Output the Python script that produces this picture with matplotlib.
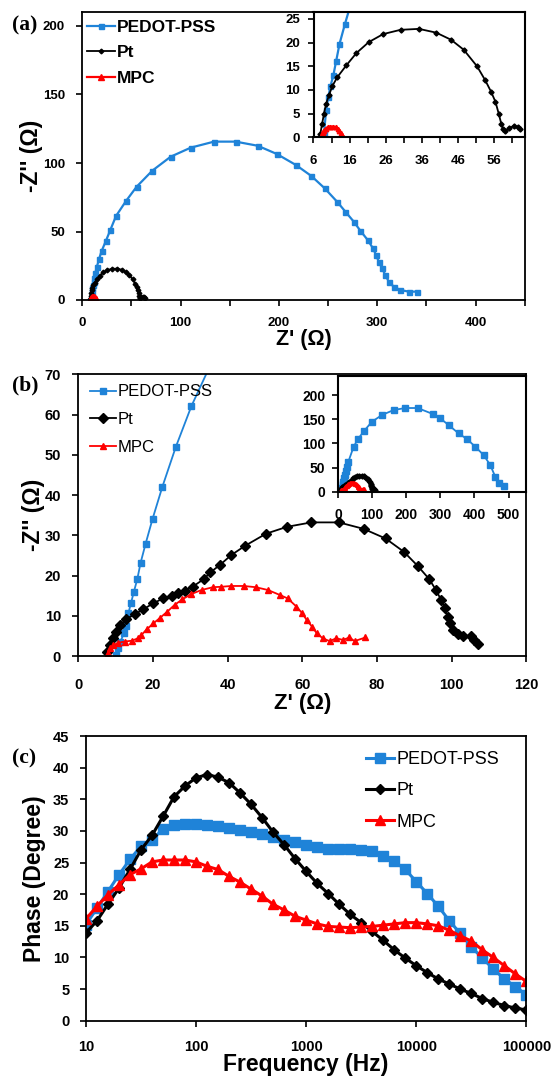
import matplotlib
matplotlib.use('Agg')
import matplotlib.pyplot as plt
from matplotlib.ticker import FixedLocator, FixedFormatter, NullFormatter

plt.rcParams['font.family'] = ['Liberation Sans', 'DejaVu Sans']
plt.rcParams['font.weight'] = 'bold'
plt.rcParams['axes.labelweight'] = 'bold'

# ---------------- data ----------------
labels = ['PEDOT-PSS', 'Pt', 'MPC']

# Panel (a) Nyquist
a_pedot_x = [8.9, 9.5, 10.1, 10.7, 11.5, 12.3, 13.2, 14.7, 17.0, 19.8, 24.1, 28.5, 34.3, 44.5, 55.3,
             71.2, 89.9, 110.3, 134.0, 156.0, 178.4, 197.8, 217.4, 233.0, 246.6, 259.1, 267.6, 276.1,
             282.8, 290.3, 295.7, 298.8, 301.5, 304.9, 308.2, 311.7, 316.8, 323.5, 332.0, 340.5]
a_pedot_y = [0.8, 5.7, 8.5, 10.8, 13.1, 16.2, 19.7, 23.9, 29.9, 36.0, 43.3, 51.1, 61.3, 72.3, 82.7,
             94.4, 104.6, 111.2, 115.6, 115.6, 112.6, 106.6, 98.5, 90.5, 81.5, 71.8, 64.5, 57.2,
             50.6, 43.8, 37.7, 32.8, 28.0, 23.1, 18.2, 13.4, 9.7, 7.3, 6.1, 6.1]
a_pt_x = [7.9, 8.4, 8.9, 9.5, 10.3, 11.2, 12.6, 15.1, 17.9, 21.3, 25.3, 30.1, 35.2, 40.0, 44.1,
          47.6, 51.3, 53.6, 55.2, 56.4, 57.3, 58.0, 58.5, 59.1, 60.1, 61.5, 62.6, 63.3]
a_pt_y = [0.8, 2.9, 5.0, 7.1, 8.9, 10.8, 12.7, 15.2, 17.8, 20.1, 21.8, 22.7, 22.9, 22.1, 20.6,
          18.5, 15.0, 12.0, 9.6, 7.5, 5.0, 2.9, 1.7, 1.3, 1.9, 2.4, 2.2, 1.7]
a_mpc_x = [8.2, 8.5, 8.9, 9.4, 10.0, 10.7, 11.4, 12.1, 12.7, 13.2, 13.6, 14.0, 14.2]
a_mpc_y = [0.2, 0.9, 1.4, 1.8, 2.1, 2.2, 2.2, 2.1, 1.8, 1.4, 0.9, 0.4, 0.1]

# Panel (b) Nyquist
b_pedot_x = [10.2, 10.7, 11.3, 12.2, 12.9, 13.4, 14.1, 14.9, 15.8, 16.7, 18.0, 19.9, 22.5, 26.1, 30.3,
             45.9, 58.6, 77.1, 99.6, 128.9, 163.1, 197.3, 233.4, 278.3, 299.8, 324.2, 353.5, 377.9,
             402.3, 426.8, 446.3, 460.9, 472.7, 485.4]
b_pedot_y = [0.2, 1.9, 3.6, 5.6, 7.5, 10.6, 13.1, 16.0, 19.1, 23.2, 27.8, 34.1, 42.0, 51.9, 62.1,
             93.4, 109.3, 126.6, 145.2, 159.1, 169.4, 173.6, 173.6, 161.1, 152.1, 138.3, 121.0, 109.3,
             93.4, 76.1, 55.4, 31.2, 18.7, 12.5]
b_pt_x = [7.6, 8.5, 9.4, 10.2, 11.3, 12.7, 15.2, 17.4, 20.1, 22.7, 25.0, 26.7, 28.5, 30.6, 33.6,
          35.4, 37.9, 41.0, 44.7, 50.3, 55.9, 62.4, 69.8, 76.4, 82.3, 87.2, 90.9, 94.0, 95.8, 97.2,
          98.2, 98.9, 99.6, 100.3, 101.6, 103.1, 105.2, 106.1, 107.0]
b_pt_y = [1.1, 2.7, 4.4, 6.0, 7.7, 9.1, 10.4, 11.6, 13.1, 14.3, 14.9, 15.7, 16.2, 17.2, 19.1,
          20.8, 22.6, 25.1, 27.4, 30.4, 32.1, 33.2, 33.2, 31.6, 29.2, 25.9, 22.4, 19.1, 16.4, 13.9,
          11.9, 9.8, 8.1, 6.5, 5.5, 5.0, 5.0, 4.1, 3.1]
b_mpc_x = [8.0, 8.5, 9.4, 10.7, 12.5, 14.3, 16.0, 16.9, 18.3, 20.1, 21.8, 23.8, 25.8, 27.9, 30.3,
           33.0, 36.1, 38.3, 41.0, 44.3, 47.5, 50.8, 53.9, 56.1, 58.4, 60.0, 61.2, 62.6, 63.9,
           65.5, 67.3, 69.1, 70.9, 72.6, 74.0, 76.9]
b_mpc_y = [0.7, 1.9, 2.7, 3.3, 3.6, 3.8, 4.4, 5.2, 6.6, 8.1, 9.4, 11.0, 12.7, 14.1, 15.4,
           16.4, 17.1, 17.2, 17.4, 17.4, 17.1, 16.4, 15.2, 14.3, 12.3, 10.6, 8.9, 7.3, 5.6,
           4.4, 3.7, 4.4, 4.0, 4.6, 3.7, 4.6]

# Panel (c) Bode phase
freq = [10, 12.6, 15.8, 20, 25.1, 31.6, 39.8, 50.1, 63.1, 79.4, 100, 126, 158, 200, 251, 316, 398,
        501, 631, 794, 1000, 1259, 1585, 1995, 2512, 3162, 3981, 5012, 6310, 7943, 10000, 12589,
        15849, 19953, 25119, 31623, 39811, 50119, 63096, 79433, 100000]
c_pedot = [15.2, 17.8, 20.4, 23.1, 25.5, 27.6, 28.6, 30.3, 30.9, 31.1, 31.1, 31.0, 30.7, 30.5, 30.1,
           29.9, 29.5, 29.0, 28.6, 28.2, 27.8, 27.5, 27.2, 27.1, 27.1, 27.0, 26.8, 26.1, 25.2, 23.9,
           22.0, 20.1, 18.1, 15.8, 13.8, 11.7, 9.9, 8.2, 6.6, 5.4, 4.1]
c_pt = [13.9, 15.8, 18.4, 21.0, 23.9, 27.0, 29.3, 32.3, 35.4, 37.1, 38.4, 38.9, 38.5, 37.6, 36.0,
        34.2, 32.1, 29.8, 27.8, 25.6, 23.6, 21.7, 20.1, 18.4, 16.8, 15.5, 14.1, 12.7, 11.2, 9.9,
        8.7, 7.6, 6.6, 5.8, 5.0, 4.3, 3.5, 2.9, 2.4, 2.0, 1.7]
c_mpc = [16.1, 18.1, 19.9, 21.5, 23.1, 24.0, 25.1, 25.4, 25.4, 25.4, 25.1, 24.4, 23.9, 22.8, 21.9,
         20.8, 19.7, 18.4, 17.5, 16.5, 15.9, 15.3, 14.9, 14.8, 14.7, 14.8, 14.9, 15.1, 15.3, 15.5,
         15.5, 15.3, 15.0, 14.3, 13.4, 12.6, 11.2, 10.0, 8.7, 7.4, 6.2]

# ticks
a_xticks = [0, 100, 200, 300, 400]
a_xminor = [50, 150, 250, 350, 450]
a_yticks = [0, 50, 100, 150, 200]
ai_xticks = [6, 16, 26, 36, 46, 56]
ai_xminor = [11, 21, 31, 41, 51, 61]
ai_yticks = [0, 5, 10, 15, 20, 25]
b_xticks = [0, 20, 40, 60, 80, 100, 120]
b_yticks = [0, 10, 20, 30, 40, 50, 60, 70]
bi_xticks = [0, 100, 200, 300, 400, 500]
bi_yticks = [0, 50, 100, 150, 200]
c_xticks = [10, 100, 1000, 10000, 100000]
c_xlabels = ['10', '100', '1000', '10000', '100000']
c_yticks = [0, 5, 10, 15, 20, 25, 30, 35, 40, 45]

BLUE = '#1f83d8'
RED = '#ff0000'
BLACK = '#000000'

W, H = 554, 1076
fig = plt.figure(figsize=(W / 100, H / 100), dpi=100)


def ax_px(l, t, r, b):
    return fig.add_axes([l / W, 1 - b / H, (r - l) / W, (b - t) / H])


def style(ax, size, ypad, xpad, lw=1.3):
    for s in ax.spines.values():
        s.set_linewidth(lw)
    ax.tick_params(which='both', direction='out', length=4, width=1.2,
                   labelsize=size)
    ax.tick_params(axis='y', which='both', pad=ypad)
    ax.tick_params(axis='x', which='both', pad=xpad)


def legend(ax, x, y, size, weight, hl, htp, ls):
    ax.legend(loc='upper left', bbox_to_anchor=(x / W, 1 - y / H),
              bbox_transform=fig.transFigure, frameon=False, borderpad=0,
              borderaxespad=0, handlelength=hl, handletextpad=htp,
              labelspacing=ls, prop={'size': size, 'weight': weight,
                                     'family': 'Liberation Sans'})


def panel_label(x, y, s):
    fig.text(x / W, 1 - y / H, s, family='Liberation Serif', weight='bold',
             fontsize=15.5, ha='center', va='center')


# ---------------- panel (a) ----------------
ax = ax_px(82.3, 12.3, 524.7, 300)
ax.plot(a_pedot_x, a_pedot_y, color=BLUE, lw=1.6, marker='s', ms=3.6, label=labels[0])
ax.plot(a_pt_x, a_pt_y, color=BLACK, lw=1.3, marker='D', ms=2.4, label=labels[1])
ax.plot(a_mpc_x, a_mpc_y, color=RED, lw=1.6, marker='^', ms=4.2, label=labels[2])
ax.set_xlim(0, 450)
ax.set_ylim(0, 210)
ax.xaxis.set_major_locator(FixedLocator(a_xticks))
ax.xaxis.set_minor_locator(FixedLocator(a_xminor))
ax.yaxis.set_major_locator(FixedLocator(a_yticks))
style(ax, 9.5, 8.5, 8.5)
ax.set_xlabel("Z' (\u03a9)", fontsize=15.5, labelpad=0)
ax.set_ylabel("-Z'' (\u03a9)", fontsize=16.5, labelpad=6)
ax.xaxis.set_label_coords(0.5, -0.101)
ax.yaxis.set_label_coords(-0.088, 0.5)
legend(ax, 87, 20, 12.5, 'bold', 1.6, 0.1, 0.58)
panel_label(24.5, 25.5, '(a)')

axi = ax_px(313.5, 12.3, 524.7, 137.3)
axi.plot(a_pedot_x, a_pedot_y, color=BLUE, lw=1.6, marker='s', ms=3.6)
axi.plot(a_pt_x, a_pt_y, color=BLACK, lw=1.3, marker='D', ms=2.6)
axi.plot(a_mpc_x, a_mpc_y, color=RED, lw=2.2, marker='^', ms=3.2)
axi.set_xlim(6, 64.5)
axi.set_ylim(0, 26.4)
axi.xaxis.set_major_locator(FixedLocator(ai_xticks))
axi.xaxis.set_minor_locator(FixedLocator(ai_xminor))
axi.yaxis.set_major_locator(FixedLocator(ai_yticks))
style(axi, 9.5, 5.5, 8.5, lw=1.5)

# ---------------- panel (b) ----------------
ax = ax_px(78.3, 374.3, 526.3, 656)
ax.plot(b_pedot_x, b_pedot_y, color=BLUE, lw=1.3, marker='s', ms=4.2, label=labels[0])
ax.plot(b_pt_x, b_pt_y, color=BLACK, lw=1.3, marker='D', ms=4.6, label=labels[1])
ax.plot(b_mpc_x, b_mpc_y, color=RED, lw=1.3, marker='^', ms=4.8, label=labels[2])
ax.set_xlim(0, 120)
ax.set_ylim(0, 70)
ax.xaxis.set_major_locator(FixedLocator(b_xticks))
ax.yaxis.set_major_locator(FixedLocator(b_yticks))
style(ax, 10.5, 8.5, 12)
ax.set_xlabel("Z' (\u03a9)", fontsize=16, labelpad=0)
ax.set_ylabel("-Z'' (\u03a9)", fontsize=16.5, labelpad=6)
ax.xaxis.set_label_coords(0.5, -0.131)
ax.yaxis.set_label_coords(-0.074, 0.5)
legend(ax, 90, 384.5, 12, 'normal', 1.55, 0.1, 0.76)
panel_label(25, 385, '(b)')

axi = ax_px(338, 376, 526.3, 491.7)
axi.plot(b_pedot_x, b_pedot_y, color=BLUE, lw=1.3, marker='s', ms=3.8)
axi.plot(b_pt_x, b_pt_y, color=BLACK, lw=1.6, marker='D', ms=2.6)
axi.plot(b_mpc_x, b_mpc_y, color=RED, lw=1.6, marker='^', ms=2.8)
axi.set_xlim(0, 552)
axi.set_ylim(0, 240)
axi.xaxis.set_major_locator(FixedLocator(bi_xticks))
axi.yaxis.set_major_locator(FixedLocator(bi_yticks))
style(axi, 10, 5, 8, lw=1.5)

# ---------------- panel (c) ----------------
ax = ax_px(86, 736, 526.3, 1020.7)
ax.plot(freq, c_pedot, color=BLUE, lw=2.2, marker='s', ms=7, label=labels[0])
ax.plot(freq, c_pt, color=BLACK, lw=2.2, marker='D', ms=5.6, label=labels[1])
ax.plot(freq, c_mpc, color=RED, lw=2.2, marker='^', ms=7, label=labels[2])
ax.set_xscale('log')
ax.set_xlim(10, 100000)
ax.set_ylim(0, 45)
ax.xaxis.set_major_locator(FixedLocator(c_xticks))
ax.xaxis.set_major_formatter(FixedFormatter(c_xlabels))
ax.xaxis.set_minor_locator(FixedLocator([]))
ax.xaxis.set_minor_formatter(NullFormatter())
ax.yaxis.set_major_locator(FixedLocator(c_yticks))
style(ax, 10.5, 8, 10)
ax.set_xlabel('Frequency (Hz)', fontsize=16.5, labelpad=0)
ax.set_ylabel('Phase (Degree)', fontsize=16.5, labelpad=6)
ax.xaxis.set_label_coords(0.5, -0.113)
ax.yaxis.set_label_coords(-0.091, 0.5)
legend(ax, 366, 751, 13, 'normal', 1.55, 0.15, 0.79)
panel_label(24.5, 758, '(c)')

fig.savefig('out.png', dpi=100)
